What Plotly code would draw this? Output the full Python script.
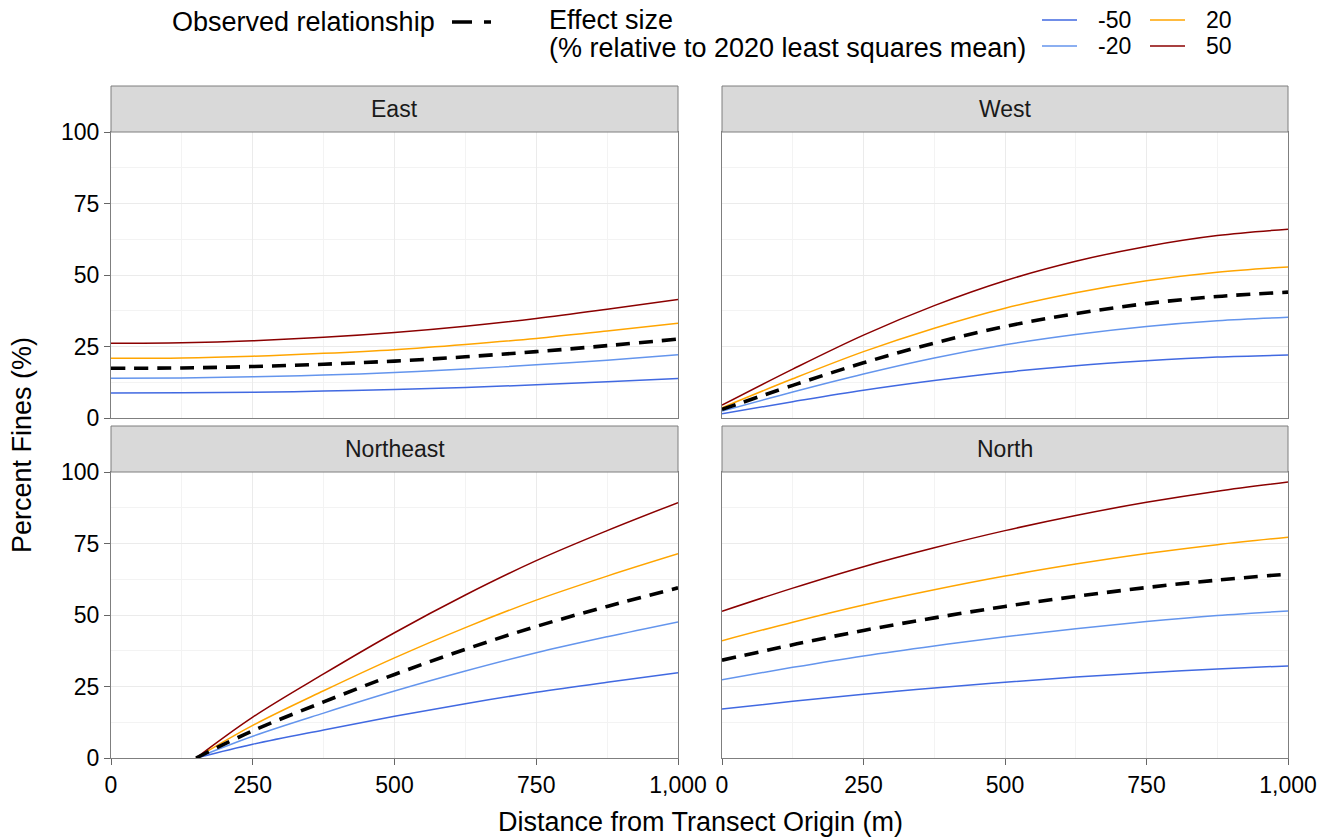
import plotly.graph_objects as go

# ---- data -------------------------------------------------------------
distance = [0, 125, 250, 375, 500, 625, 750, 875, 1000]
distance_ne = [150, 250, 375, 500, 625, 750, 875, 1000]

effect_levels = ["-50", "-20", "20", "50"]
effect_colors = {"-50": "#4169E1", "-20": "#6495ED", "20": "#FFA500", "50": "#8B0000"}

# East
east_observed = [17.4, 17.5, 18.0, 18.8, 19.9, 21.4, 23.2, 25.3, 27.6]
east_m50 = [8.7, 8.8, 9.0, 9.4, 10.0, 10.7, 11.6, 12.7, 13.8]
east_m20 = [13.9, 14.0, 14.4, 15.0, 15.9, 17.1, 18.6, 20.2, 22.1]
east_p20 = [20.9, 21.0, 21.6, 22.6, 23.9, 25.7, 27.8, 30.4, 33.1]
east_p50 = [26.1, 26.3, 27.0, 28.2, 29.9, 32.1, 34.8, 38.0, 41.4]

# West
west_observed = [3.0, 11.4, 19.3, 26.2, 32.0, 36.5, 40.0, 42.5, 44.0]
west_m50 = [1.5, 5.7, 9.7, 13.1, 16.0, 18.3, 20.0, 21.3, 22.0]
west_m20 = [2.4, 9.1, 15.4, 21.0, 25.6, 29.2, 32.0, 34.0, 35.2]
west_p20 = [3.6, 13.7, 23.2, 31.4, 38.4, 43.8, 48.0, 51.0, 52.8]
west_p50 = [4.5, 17.1, 29.0, 39.3, 48.0, 54.8, 60.0, 63.8, 66.0]

# Northeast (starts at 150 m)
ne_observed = [0.0, 9.5, 19.6, 29.2, 38.0, 46.0, 53.0, 59.5]
ne_m50 = [0.0, 4.8, 9.8, 14.6, 19.0, 23.0, 26.5, 29.8]
ne_m20 = [0.0, 7.6, 15.7, 23.4, 30.4, 36.8, 42.4, 47.6]
ne_p20 = [0.0, 11.4, 23.5, 35.0, 45.6, 55.2, 63.6, 71.4]
ne_p50 = [0.0, 14.3, 29.4, 43.8, 57.0, 69.0, 79.5, 89.3]

# North
north_observed = [34.2, 39.6, 44.6, 49.0, 53.0, 56.5, 59.6, 62.2, 64.3]
north_m50 = [17.1, 19.8, 22.3, 24.5, 26.5, 28.3, 29.8, 31.1, 32.2]
north_m20 = [27.4, 31.7, 35.7, 39.2, 42.4, 45.2, 47.7, 49.8, 51.4]
north_p20 = [41.0, 47.5, 53.5, 58.8, 63.6, 67.8, 71.5, 74.6, 77.2]
north_p50 = [51.3, 59.4, 66.9, 73.5, 79.5, 84.8, 89.4, 93.3, 96.5]

panels = [
    ("East", distance, east_observed, [east_m50, east_m20, east_p20, east_p50]),
    ("West", distance, west_observed, [west_m50, west_m20, west_p20, west_p50]),
    ("Northeast", distance_ne, ne_observed, [ne_m50, ne_m20, ne_p20, ne_p50]),
    ("North", distance, north_observed, [north_m50, north_m20, north_p20, north_p50]),
]

x_ticks = [0, 250, 500, 750, 1000]
y_ticks = [0, 25, 50, 75, 100]

# ---- layout geometry (pixels on a 1336 x 840 canvas) -----------------
W, H = 1336, 840
FONT = "Liberation Sans, Arial, sans-serif"


def px(x):
    return x / W


def py(y):
    return 1 - y / H


col_px = [(111, 678), (722, 1288)]
row_px = [(132, 418), (472, 758)]   # plot area top/bottom
strip_h = 46

fig = go.Figure()
shapes = []
annotations = []

for i, (name, xs, obs, effects) in enumerate(panels):
    r, c = divmod(i, 2)
    n = i + 1
    xa = "x" if n == 1 else f"x{n}"
    ya = "y" if n == 1 else f"y{n}"
    for lvl, ys in zip(effect_levels, effects):
        fig.add_trace(go.Scatter(
            x=xs, y=ys, mode="lines", xaxis=xa, yaxis=ya,
            line=dict(color=effect_colors[lvl], width=1.5, shape="spline", smoothing=1.0),
            showlegend=False, hoverinfo="skip"))
    fig.add_trace(go.Scatter(
        x=xs, y=obs, mode="lines", xaxis=xa, yaxis=ya,
        line=dict(color="black", width=3.6, dash="14px,9px", shape="spline", smoothing=1.0),
        showlegend=False, hoverinfo="skip"))

    x0, x1 = col_px[c]
    top, bot = row_px[r]
    xkey = "xaxis" if n == 1 else f"xaxis{n}"
    ykey = "yaxis" if n == 1 else f"yaxis{n}"
    fig.layout[xkey] = dict(
        domain=[px(x0), px(x1)], anchor=ya, range=[0, 1000], automargin=False,
        tickvals=x_ticks, tickformat=",", showgrid=True,
        gridcolor="#ebebeb", gridwidth=1, zeroline=False,
        minor=dict(tickvals=[125, 375, 625, 875], showgrid=True,
                   gridcolor="#f3f3f3", gridwidth=1, ticks=""),
        showline=True, mirror=True, linecolor="#7f7f7f", linewidth=1,
        ticks="outside" if r == 1 else "", ticklen=6, tickcolor="#666666",
        showticklabels=(r == 1),
        tickfont=dict(family=FONT, size=23, color="black"),
    )
    fig.layout[ykey] = dict(
        domain=[py(bot), py(top)], anchor=xa, range=[0, 100], automargin=False,
        tickvals=y_ticks, showgrid=True, gridcolor="#ebebeb", gridwidth=1,
        zeroline=False,
        minor=dict(tickvals=[12.5, 37.5, 62.5, 87.5], showgrid=True,
                   gridcolor="#f3f3f3", gridwidth=1, ticks=""),
        showline=True, mirror=True, linecolor="#7f7f7f", linewidth=1,
        ticks="outside" if c == 0 else "", ticklen=6, tickcolor="#666666",
        showticklabels=(c == 0),
        tickfont=dict(family=FONT, size=23, color="black"),
    )

    # facet strip
    shapes.append(dict(type="rect", xref="paper", yref="paper",
                       x0=px(x0), x1=px(x1), y0=py(top), y1=py(top - strip_h),
                       fillcolor="#d9d9d9", line=dict(color="#7f7f7f", width=1)))
    annotations.append(dict(text=name, xref="paper", yref="paper",
                            x=px((x0 + x1) / 2), y=py(top - strip_h / 2),
                            xanchor="center", yanchor="middle", showarrow=False,
                            font=dict(family=FONT, size=23, color="#1a1a1a")))

# axis titles
annotations.append(dict(text="Distance from Transect Origin (m)", xref="paper", yref="paper",
                        x=px(700), y=py(822), xanchor="center", yanchor="middle",
                        showarrow=False, font=dict(family=FONT, size=27, color="black")))
annotations.append(dict(text="Percent Fines (%)", xref="paper", yref="paper",
                        x=px(22), y=py(445), xanchor="center", yanchor="middle",
                        textangle=-90, showarrow=False,
                        font=dict(family=FONT, size=27, color="black")))

# legend: observed relationship
annotations.append(dict(text="Observed relationship", xref="paper", yref="paper",
                        x=px(170), y=py(22), xanchor="left", yanchor="middle",
                        showarrow=False, font=dict(family=FONT, size=27, color="black")))
shapes.append(dict(type="line", xref="paper", yref="paper",
                   x0=px(452), x1=px(491), y0=py(22), y1=py(22),
                   line=dict(color="black", width=3.6, dash="20px,12px")))

# legend: effect size
annotations.append(dict(text="Effect size", xref="paper", yref="paper",
                        x=px(547), y=py(20), xanchor="left", yanchor="middle",
                        showarrow=False, font=dict(family=FONT, size=27, color="black")))
annotations.append(dict(text="(% relative to 2020 least squares mean)", xref="paper", yref="paper",
                        x=px(547), y=py(48), xanchor="left", yanchor="middle",
                        showarrow=False, font=dict(family=FONT, size=27, color="black")))

legend_slots = {"-50": (1042, 1096, 20), "-20": (1042, 1096, 46),
                "20": (1150, 1204, 20), "50": (1150, 1204, 46)}
for lvl in effect_levels:
    lx, tx, ly = legend_slots[lvl]
    shapes.append(dict(type="line", xref="paper", yref="paper",
                       x0=px(lx), x1=px(lx + 35), y0=py(ly), y1=py(ly),
                       line=dict(color=effect_colors[lvl], width=1.5)))
    annotations.append(dict(text=lvl, xref="paper", yref="paper",
                            x=px(tx), y=py(ly), xanchor="left", yanchor="middle",
                            showarrow=False, font=dict(family=FONT, size=23, color="black")))

fig.update_layout(
    width=W, height=H, margin=dict(l=0, r=0, t=0, b=0, pad=0, autoexpand=False),
    paper_bgcolor="white", plot_bgcolor="white",
    font=dict(family=FONT, color="black"),
    shapes=shapes, annotations=annotations, showlegend=False,
)

fig.write_html("out.html", include_plotlyjs=True, full_html=True,
               config={"displayModeBar": False})
